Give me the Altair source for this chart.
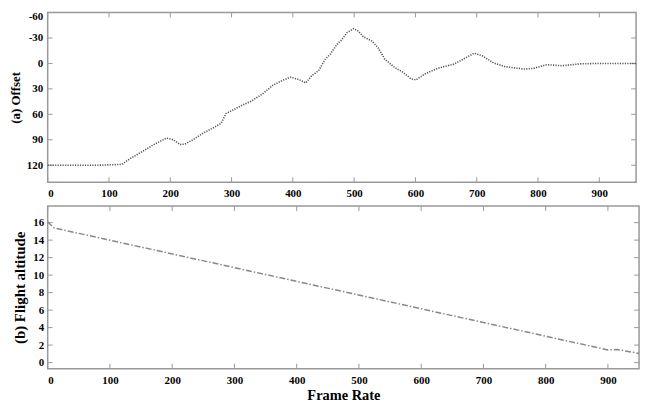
import altair as alt
import pandas as pd

# ---- data ----
frames_a = [0, 81, 121, 135, 154, 173, 194, 205, 216, 224, 237, 254, 270, 283, 291,
            302, 318, 332, 351, 367, 383, 396, 410, 421, 431, 442, 453, 461, 472, 480,
            488, 499, 507, 515, 529, 539, 550, 566, 580, 593, 601, 615, 636, 663, 680,
            696, 709, 728, 747, 777, 793, 814, 839, 869, 900, 960]
offset_a = [120, 120, 119, 112, 104, 95.7, 88, 90, 95.7, 95, 90, 82, 76, 70.5, 59,
            55, 49, 44.5, 35.7, 26, 20, 16.3, 19, 23, 14.3, 8.5, -5, -10.8, -22.5, -28,
            -36, -41, -38, -31.4, -26.4, -18.6, -5, 4.7, 10.5, 18.3, 19.4, 12.4, 5.8, 0.8, -5.8,
            -12, -9, -0.4, 3.9, 6.6, 5.8, 1.5, 2.7, 0.5, 0, 0]

frames_b = [0, 10, 900, 915, 950]
altitude_b = [16.1, 15.4, 1.45, 1.5, 1.05]

x_ticks_a = [0, 100, 200, 300, 400, 500, 600, 700, 800, 900]
y_ticks_a = [-60, -30, 0, 30, 60, 90, 120]
x_ticks_b = [0, 100, 200, 300, 400, 500, 600, 700, 800, 900]
y_ticks_b = [0, 2, 4, 6, 8, 10, 12, 14, 16]

FONT = "Liberation Serif"
FRAME = "#999999"
TICK_LEN = 5

WA, HA = 593, 171
WB, HB = 596, 164


def panel(frames, values, xdom, ydom, yrev, xt, yt, w, h, ytitle, ytitle_size,
          xtitle, line_kw, xlabel_pad, ylabel_pad, ytitle_pad, yflush):
    xs = alt.Scale(domain=xdom, nice=False, zero=False)
    ys = alt.Scale(domain=ydom, nice=False, zero=False, reverse=yrev)
    xkw = dict(values=xt, ticks=False, domain=False, grid=False,
               labelPadding=xlabel_pad, labelExpr="datum.value")
    if xtitle:
        xkw.update(title=xtitle, titleFontSize=14.5, titlePadding=3)
    else:
        xkw.update(title=None)
    xaxis = alt.Axis(**xkw)
    ykw = dict(values=yt, ticks=False, domain=False, grid=False,
               labelPadding=ylabel_pad, labelExpr="datum.value",
               title=ytitle, titleFontSize=ytitle_size, titlePadding=ytitle_pad)
    if yflush:
        ykw.update(labelFlush=True, labelFlushOffset=2)
    yaxis = alt.Axis(**ykw)

    df = pd.DataFrame({"x": frames, "y": values})
    dxt = pd.DataFrame({"x": xt})
    dyt = pd.DataFrame({"y": yt})

    line = alt.Chart(df).mark_line(**line_kw).encode(
        x=alt.X("x:Q", scale=xs, axis=xaxis),
        y=alt.Y("y:Q", scale=ys, axis=yaxis),
    )
    xb = alt.Chart(dxt).mark_rule(color=FRAME, strokeWidth=1).encode(
        x=alt.X("x:Q", scale=xs, axis=xaxis),
        y=alt.value(h), y2=alt.value(h - TICK_LEN))
    xtop = alt.Chart(dxt).mark_rule(color=FRAME, strokeWidth=1).encode(
        x=alt.X("x:Q", scale=xs, axis=xaxis),
        y=alt.value(0), y2=alt.value(TICK_LEN))
    yl = alt.Chart(dyt).mark_rule(color=FRAME, strokeWidth=1).encode(
        y=alt.Y("y:Q", scale=ys, axis=yaxis),
        x=alt.value(0), x2=alt.value(TICK_LEN))
    yr = alt.Chart(dyt).mark_rule(color=FRAME, strokeWidth=1).encode(
        y=alt.Y("y:Q", scale=ys, axis=yaxis),
        x=alt.value(w), x2=alt.value(w - TICK_LEN))
    return alt.layer(xb, xtop, yl, yr, line).properties(width=w, height=h)


top = panel(frames_a, offset_a, [0, 960], [-60, 140], True, x_ticks_a, y_ticks_a,
            WA, HA, "(a) Offset", 13, None,
            dict(color="#555555", strokeWidth=1.6, strokeDash=[1.2, 1.3]), 5, 5, 4, True)
bottom = panel(frames_b, altitude_b, [0, 950], [-0.7, 17.9], False, x_ticks_b, y_ticks_b,
               WB, HB, "(b) Flight altitude", 15, "Frame Rate",
               dict(color="#888888", strokeWidth=1.5, strokeDash=[6, 2, 1.5, 2]), 6, 4, 5, False)

chart = alt.vconcat(top, bottom, spacing=5).properties(
    padding={"left": 0, "top": 0, "right": 2, "bottom": 0},
    background="white",
).configure_view(stroke=FRAME, strokeWidth=1.5).configure_axis(
    labelFont=FONT, labelFontWeight="bold", labelFontSize=11, labelColor="black",
    titleFont=FONT, titleFontWeight="bold", titleColor="black",
)

chart.save("out.html", embed_options={"renderer": "svg", "actions": False})
